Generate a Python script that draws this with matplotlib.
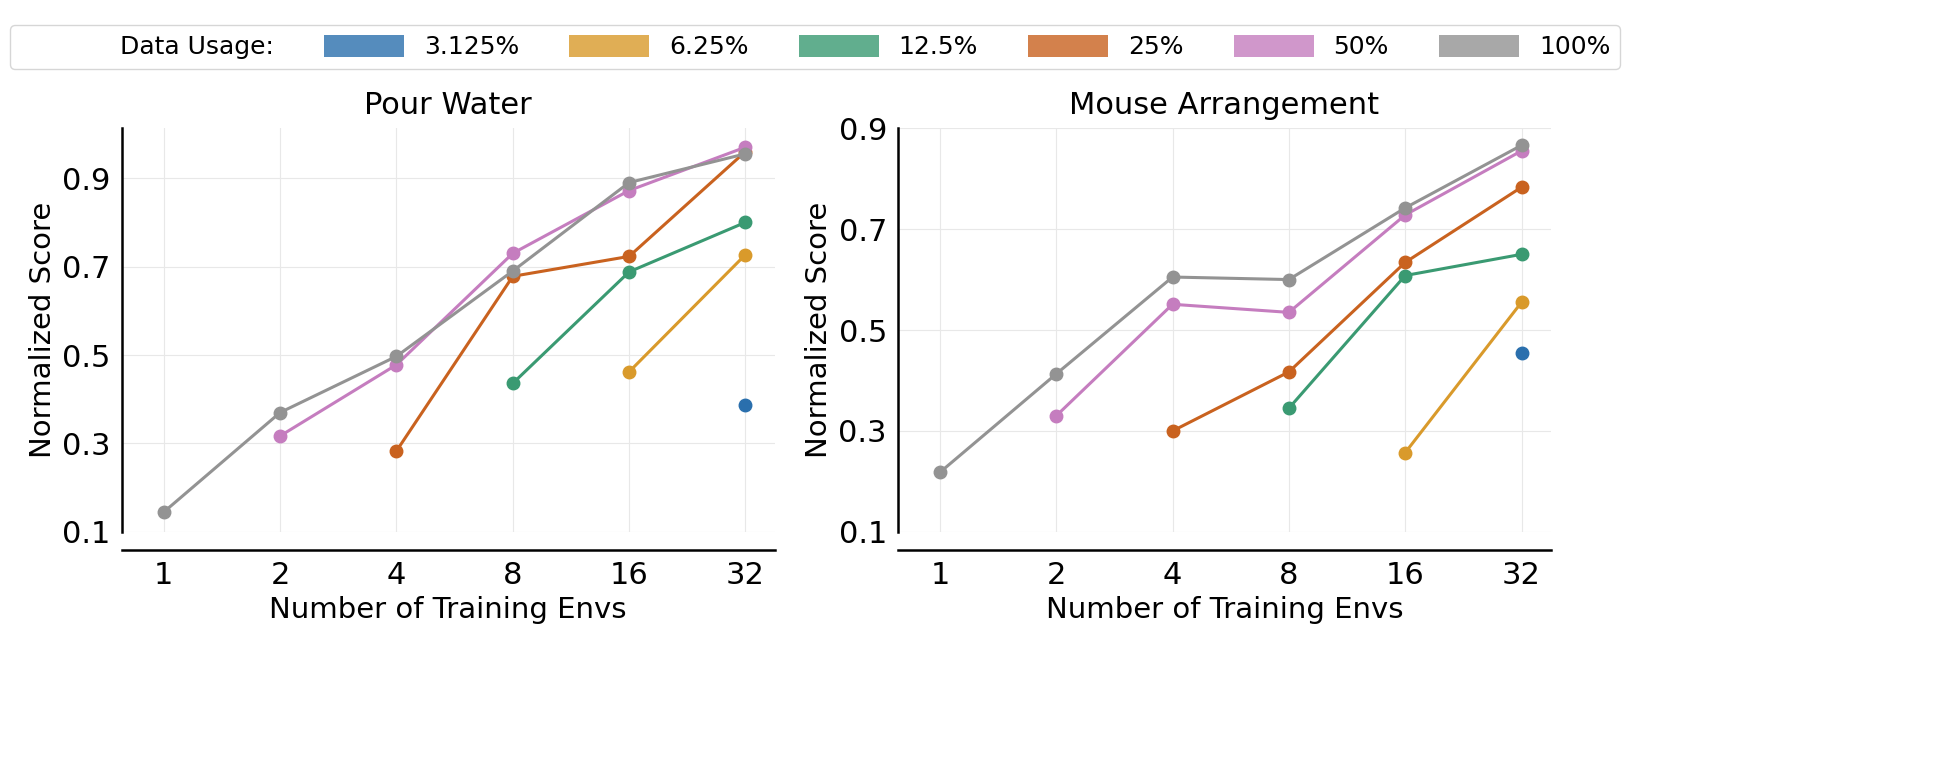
import matplotlib
matplotlib.use("Agg")
import matplotlib.pyplot as plt
from matplotlib.patches import Patch

envs = ["1", "2", "4", "8", "16", "32"]
usage_labels = ["3.125%", "6.25%", "12.5%", "25%", "50%", "100%"]
colors = ["#2a6fad", "#d99a2b", "#3a9a72", "#c9621f", "#c57dbf", "#939393"]

pour_3125 = [None, None, None, None, None, 0.386]
pour_625 = [None, None, None, None, 0.462, 0.727]
pour_125 = [None, None, None, 0.436, 0.688, 0.800]
pour_25 = [None, None, 0.283, 0.678, 0.723, 0.960]
pour_50 = [None, 0.317, 0.478, 0.730, 0.872, 0.970]
pour_100 = [0.145, 0.370, 0.497, 0.690, 0.890, 0.955]

mouse_3125 = [None, None, None, None, None, 0.455]
mouse_625 = [None, None, None, None, 0.257, 0.555]
mouse_125 = [None, None, None, 0.345, 0.608, 0.650]
mouse_25 = [None, None, 0.300, 0.417, 0.634, 0.783]
mouse_50 = [None, 0.330, 0.551, 0.535, 0.728, 0.855]
mouse_100 = [0.218, 0.413, 0.605, 0.600, 0.742, 0.866]

panels = [
    ("Pour Water", [pour_3125, pour_625, pour_125, pour_25, pour_50, pour_100], (0.1, 1.013)),
    ("Mouse Arrangement", [mouse_3125, mouse_625, mouse_125, mouse_25, mouse_50, mouse_100], (0.1, 0.9)),
]

fig = plt.figure(figsize=(19.48, 7.72), dpi=100)
lefts = [0.0626, 0.461]
for (title, series, ylim), left in zip(panels, lefts):
    ax = fig.add_axes([left, 0.311, 0.335, 0.523])
    for vals, c in zip(series, colors):
        xs = [i for i, v in enumerate(vals) if v is not None]
        ys = [v for v in vals if v is not None]
        ax.plot(xs, ys, color=c, lw=2.2, marker="o", ms=9, zorder=3)
    ax.set_xlim(-0.36, 5.25)
    ax.set_ylim(*ylim)
    ax.set_xticks(range(len(envs)))
    ax.set_xticklabels(envs)
    ax.set_yticks([0.1, 0.3, 0.5, 0.7, 0.9])
    ax.set_yticklabels(["0.1", "0.3", "0.5", "0.7", "0.9"])
    ax.tick_params(labelsize=22, length=0, pad=8)
    ax.grid(True, color="#e8e8e8", lw=0.8)
    ax.set_axisbelow(True)
    for s in ["top", "right"]:
        ax.spines[s].set_visible(False)
    ax.spines["bottom"].set_position(("outward", 13))
    ax.spines["left"].set_linewidth(1.8)
    ax.spines["bottom"].set_linewidth(1.8)
    ax.set_title(title, fontsize=22, pad=10)
    ax.set_xlabel("Number of Training Envs", fontsize=21, labelpad=4)
    ax.set_ylabel("Normalized Score", fontsize=21)

handles = [Patch(facecolor="none", edgecolor="none")] + [Patch(facecolor=c, alpha=0.8) for c in colors]
labels = ["Data Usage:"] + usage_labels
fig.legend(handles, labels, loc="center", bbox_to_anchor=(0.4185, 0.939), ncol=7,
           fontsize=18, frameon=True, handlelength=3.2, handleheight=1.0,
           columnspacing=2.0, edgecolor="#cccccc", fancybox=True)

fig.savefig("out.png", dpi=100)
